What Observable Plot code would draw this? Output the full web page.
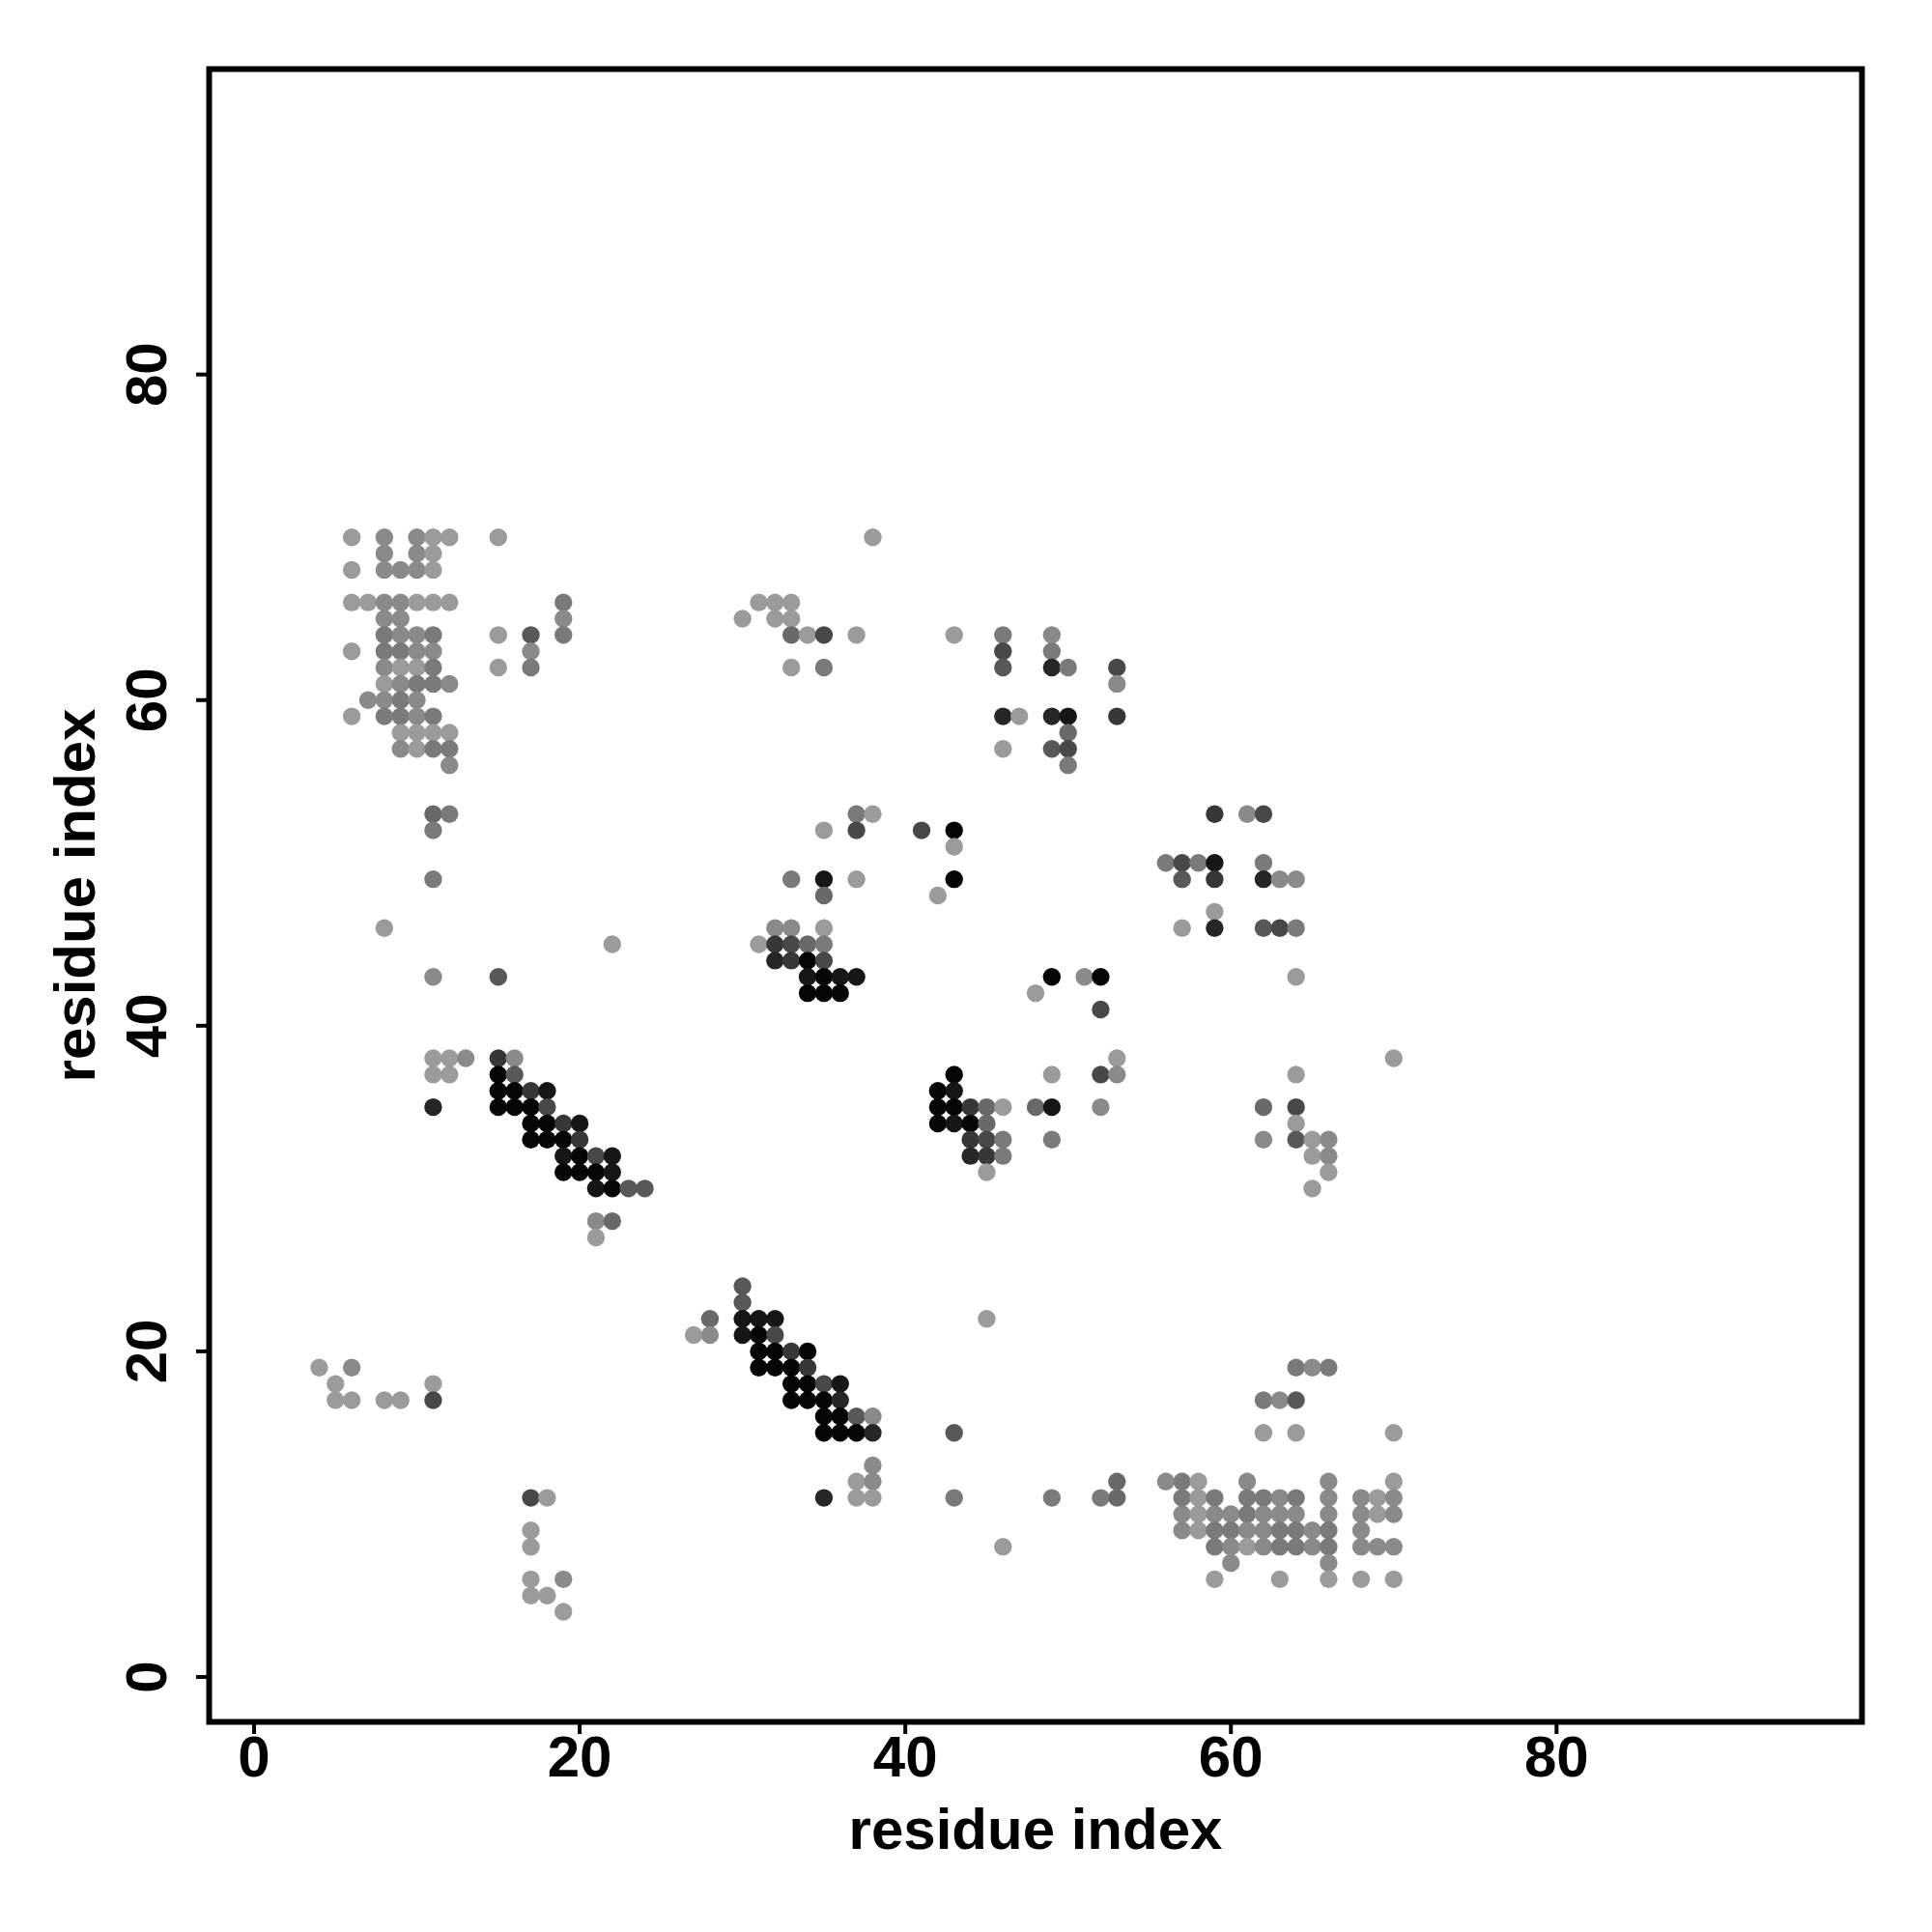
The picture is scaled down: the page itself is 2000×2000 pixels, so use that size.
<!DOCTYPE html>
<html><head><meta charset="utf-8">
<script src="https://cdn.jsdelivr.net/npm/d3@7"></script>
<script src="https://cdn.jsdelivr.net/npm/@observablehq/plot@0.6"></script>
<style>body{margin:0;background:#fff}</style>
</head><body><div id="chart"></div>
<script>
// Contact map: each row is one residue index (y), with contacting residues (x) and a darkness level 1 (light) .. 10 (black)
const rowY = [70,69,68,66,65,64,63,62,61,60,59,58,57,56,53,52,51,50,49,48,47,46,45,44,43,42,41,38,37,36,35,34,33,32,31,30,28,27,24,23,22,21,20,19,18,17,16,15,13,12,11,10,9,8,7,6,5,4];
const rowX = [
  [6,8,10,11,12,15,38],
  [8,10,11],
  [6,8,9,10,11],
  [6,7,8,9,10,11,12,19,31,32,33],
  [8,9,19,30,32,33],
  [8,9,10,11,15,17,19,33,34,35,37,43,46,49],
  [6,8,9,10,11,17,46,49],
  [8,9,10,11,15,17,33,35,46,49,50,53],
  [8,9,10,11,12,53],
  [7,8,9,10],
  [6,8,9,10,11,46,47,49,50,53],
  [9,10,11,12,50],
  [9,10,11,12,46,49,50],
  [12,50],
  [11,12,37,38,59,61,62],
  [11,35,37,41,43],
  [43],
  [56,57,58,59,62],
  [11,33,35,37,43,57,59,62,63,64],
  [35,42],
  [59],
  [8,32,33,35,57,59,62,63,64],
  [22,31,32,33,34,35],
  [32,33,34,35],
  [11,15,34,35,36,37,49,51,52,64],
  [34,35,36,48],
  [52],
  [11,12,13,15,16,53,70],
  [11,12,15,16,43,49,52,53,64],
  [15,16,17,18,42,43],
  [11,15,16,17,18,42,43,44,45,46,48,49,52,62,64],
  [17,18,19,20,42,43,44,45,64],
  [17,18,19,20,44,45,46,49,62,64,65,66],
  [19,20,21,22,44,45,46,65,66],
  [19,20,21,22,45,66],
  [21,22,23,24,65],
  [21,22],
  [21],
  [30],
  [30],
  [28,30,31,32,45],
  [27,28,30,31,32],
  [31,32,33,34],
  [4,6,31,32,33,34,64,65,66],
  [5,11,33,34,35,36],
  [5,6,8,9,11,33,34,35,36,62,63,64],
  [35,36,37,38],
  [35,36,37,38,43,62,64,70],
  [38],
  [37,38,53,56,57,58,61,66,70],
  [17,18,35,37,38,43,49,52,53,57,58,59,61,62,63,64,66,68,69,70],
  [57,58,59,60,61,62,63,64,66,68,69,70],
  [17,57,58,59,60,61,62,63,64,65,66,68],
  [17,46,59,60,61,62,63,64,65,66,68,69,70],
  [60,66],
  [17,19,59,63,66,68,70],
  [17,18],
  [19]
];
const rowLevel = [
  [1,2,2,1,1,1,1],
  [2,2,1],
  [1,2,2,2,1],
  [1,1,2,2,1,1,1,3,1,1,1],
  [2,2,2,1,1,1],
  [3,2,2,3,1,5,3,4,1,6,1,1,3,2],
  [1,3,3,2,2,2,6,3],
  [2,1,1,3,1,3,1,3,5,8,3,6],
  [1,2,3,3,2,2],
  [2,2,3,2],
  [1,3,3,2,3,8,1,8,9,7],
  [1,1,1,1,4],
  [2,1,3,3,1,5,6],
  [2,3],
  [4,3,3,1,7,2,6],
  [3,1,6,6,10],
  [1],
  [3,6,3,9,3],
  [3,3,9,1,10,5,7,8,2,2],
  [4,1],
  [1],
  [1,2,2,1,1,8,5,6,3],
  [1,1,7,6,4,3],
  [8,7,10,6],
  [2,5,9,10,9,9,10,2,10,1],
  [10,10,10,1],
  [6],
  [1,1,2,7,2,1,1],
  [1,1,10,5,10,1,6,2,1],
  [10,10,7,9,10,9],
  [8,10,10,10,6,10,10,7,4,1,4,9,2,4,6],
  [10,10,7,9,10,9,10,4,1],
  [10,10,10,7,7,6,3,3,2,5,1,2],
  [9,10,6,9,8,7,3,1,2],
  [10,10,10,9,1,1],
  [9,10,5,5,1],
  [2,4],
  [1],
  [5],
  [5],
  [4,9,9,9,1],
  [1,2,9,10,6],
  [10,10,7,10],
  [1,2,10,10,10,7,3,2,3],
  [1,1,10,10,6,9],
  [1,1,1,1,6,10,10,10,8,3,2,5],
  [10,10,5,2],
  [10,10,10,8,5,1,1,1],
  [2],
  [1,2,4,2,3,1,2,2,1],
  [6,1,8,1,1,3,3,3,4,3,1,3,3,3,2,3,2,2,1,2],
  [2,1,2,2,3,2,2,2,2,2,1,2],
  [1,2,1,3,3,2,2,3,3,2,3,2],
  [1,1,3,2,1,2,3,3,2,3,2,2,2],
  [2,2],
  [1,2,1,1,1,1,1],
  [1,1],
  [1]
];
const xTicks = [0, 20, 40, 60, 80];
const yTicks = [0, 20, 40, 60, 80];
const axisTitleX = "residue index";
const axisTitleY = "residue index";

const contacts = rowY.flatMap((y, i) => rowX[i].map((x, j) => ({x, y, level: rowLevel[i][j]})));

const chart = Plot.plot({
  width: 2000,
  height: 2000,
  marginLeft: 216,
  marginRight: 73,
  marginTop: 71,
  marginBottom: 218,
  x: {domain: [-2.76, 98.76]},
  y: {domain: [-2.76, 98.76]},
  color: {type: "linear", domain: [1, 10], range: ["#9b9b9b", "#050505"]},
  style: {fontFamily: "'Liberation Sans', Arial, sans-serif", fontWeight: "bold", background: "#fff", color: "#000"},
  marks: [
    Plot.dot(contacts, {x: "x", y: "y", fill: "level", r: 9.2, stroke: null}),
    Plot.frame({stroke: "#000", strokeWidth: 6}),
    Plot.axisX({ticks: xTicks, tickSize: 13, tickPadding: 1, strokeWidth: 4, fontSize: 60, fontWeight: "bold",
      label: axisTitleX, labelAnchor: "center", labelOffset: 131, labelArrow: "none"}),
    Plot.axisY({ticks: yTicks, tickSize: 13, tickPadding: 32, tickRotate: -90, strokeWidth: 4, fontSize: 60, fontWeight: "bold",
      label: axisTitleY, labelAnchor: "center", labelOffset: 161, labelArrow: "none"})
  ]
});
document.getElementById("chart").appendChild(chart);
</script>
</body></html>
